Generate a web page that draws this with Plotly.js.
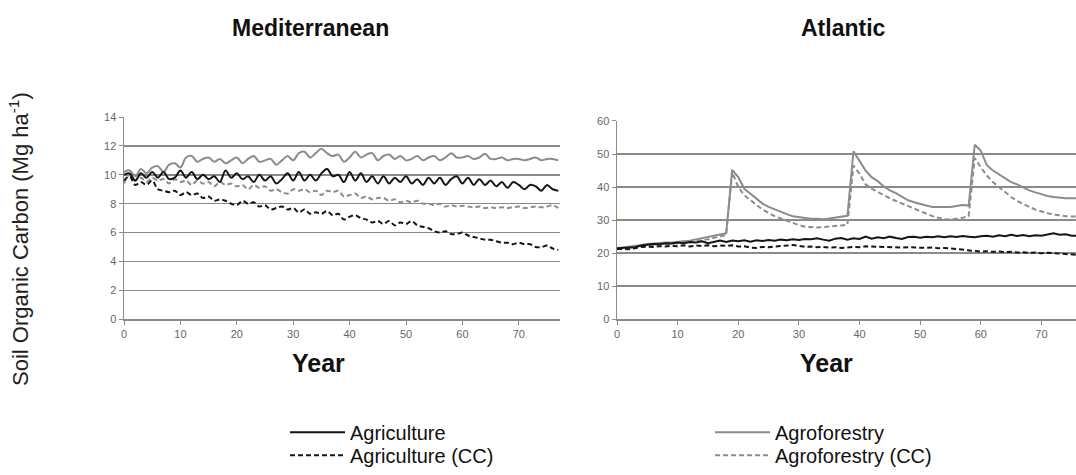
<!DOCTYPE html>
<html>
<head>
<meta charset="utf-8">
<script src="https://cdn.plot.ly/plotly-3.0.1.min.js"></script>
<style>html,body{margin:0;padding:0;background:#fff;}#chart{width:1076px;height:475px;}</style>
</head>
<body>
<div id="chart"></div>
<script>
// Years (shared x values)
const years = [0,1,2,3,4,5,6,7,8,9,10,11,12,13,14,15,16,17,18,19,20,21,22,23,24,25,26,27,28,29,30,31,32,33,34,35,36,37,38,39,40,41,42,43,44,45,46,47,48,49,50,51,52,53,54,55,56,57,58,59,60,61,62,63,64,65,66,67,68,69,70,71,72,73,74,75,76,77];

// Mediterranean (Mg ha-1)
const medAgriculture = [10.0,10.1,9.6,10.1,9.8,10.2,9.8,10.2,9.7,9.8,10.3,9.8,10.2,9.7,10.0,9.7,9.9,9.5,10.3,9.8,10.1,9.7,9.9,9.5,10.0,9.6,9.9,9.4,9.7,10.1,9.6,10.2,9.6,10.0,9.6,10.1,10.4,9.9,10.0,9.5,10.2,9.6,10.1,9.5,9.9,9.4,9.9,9.4,9.8,9.5,9.9,9.4,9.7,9.3,9.8,9.4,9.8,9.3,9.7,9.9,9.4,9.8,9.3,9.7,9.3,9.6,9.2,9.5,9.1,9.5,9.3,9.0,9.3,9.2,8.9,9.3,9.0,8.9];
const medAgricultureCC = [9.6,9.9,9.3,9.5,9.3,9.6,9.0,8.9,8.8,8.9,8.6,8.8,8.6,8.7,8.4,8.5,8.2,8.3,8.2,8.0,7.9,8.2,8.0,8.1,7.8,7.9,7.6,7.7,7.8,7.6,7.7,7.4,7.6,7.3,7.4,7.3,7.5,7.2,7.3,6.9,7.1,7.2,7.0,6.9,6.7,6.8,6.6,6.8,6.5,6.7,6.6,6.8,6.5,6.4,6.3,6.1,6.0,6.1,5.9,5.9,6.0,5.8,5.7,5.6,5.5,5.5,5.4,5.3,5.3,5.2,5.3,5.2,5.2,5.0,5.0,5.1,4.9,4.8];
const medAgroforestry = [10.2,10.3,9.9,10.4,10.1,10.5,10.6,10.2,10.7,10.8,10.5,11.2,11.3,10.9,11.1,11.2,10.9,11.1,10.8,11.0,11.2,10.8,11.1,11.3,10.9,11.0,11.1,10.7,11.0,11.3,11.0,11.5,11.6,11.2,11.5,11.8,11.5,11.3,11.4,10.9,11.2,11.6,11.2,11.4,11.5,11.0,11.3,11.4,11.1,11.3,11.0,11.1,11.3,11.0,11.2,11.3,11.0,11.2,11.5,11.2,11.2,11.3,11.1,11.2,11.45,11.1,11.1,11.2,11.0,11.1,11.1,11.0,11.1,11.2,11.0,11.1,11.1,11.0];
const medAgroforestryCC = [9.4,10.0,9.6,9.8,9.5,9.8,9.6,9.7,9.4,9.7,9.5,9.6,9.3,9.6,9.4,9.5,9.2,9.5,9.3,9.4,9.2,9.3,9.0,9.3,9.1,9.2,8.9,9.0,8.8,8.7,9.0,8.9,9.0,8.8,8.9,8.6,8.9,8.8,8.9,8.5,8.6,8.7,8.4,8.5,8.3,8.4,8.4,8.2,8.3,8.1,8.2,8.1,8.2,8.0,8.0,7.9,8.0,7.8,7.9,7.8,7.85,7.8,7.75,7.8,7.7,7.75,7.7,7.75,7.7,7.75,7.8,7.7,7.75,7.8,7.75,7.8,7.9,7.7];

// Atlantic (Mg ha-1)
const atlAgriculture = [21.5,21.6,21.6,21.8,22.3,22.5,22.8,22.7,23.0,22.9,23.2,23.0,23.4,23.2,23.6,23.0,23.5,23.8,23.4,23.8,23.6,23.9,23.5,23.9,23.7,24.0,23.8,24.1,23.9,24.2,24.0,24.3,24.2,24.5,24.1,23.8,24.4,24.6,24.1,24.5,24.3,25.0,24.4,24.8,24.5,25.0,24.6,24.3,24.9,25.0,24.7,25.0,24.8,25.1,24.8,25.1,24.9,25.2,25.0,24.8,25.1,25.3,25.0,25.4,25.1,25.6,25.2,25.5,25.1,25.4,25.3,25.6,26.0,25.6,25.7,25.3,25.2,25.2];
const atlAgricultureCC = [21.3,21.3,21.2,21.5,21.9,22.0,21.9,22.1,22.0,22.2,22.1,22.4,22.0,22.3,22.2,22.4,22.1,22.3,22.2,22.4,22.0,22.1,21.7,21.6,21.9,21.8,22.1,22.2,22.3,22.5,22.2,21.9,22.0,21.8,21.9,21.7,21.8,21.6,21.7,21.9,21.8,22.1,22.0,21.9,21.8,21.9,21.8,21.7,21.8,21.7,21.8,21.6,21.7,21.5,21.6,21.4,21.3,21.2,21.0,20.7,20.5,20.6,20.4,20.5,20.3,20.4,20.2,20.3,20.1,20.2,20.0,20.1,20.0,19.9,19.8,19.7,19.5,19.4];
const atlAgroforestry = [21.5,21.7,22.0,22.2,22.5,22.8,23.0,23.0,23.2,23.2,23.5,23.6,23.8,24.2,24.5,24.8,25.2,25.6,26.0,45.2,43.0,39.5,38.0,36.5,35.0,34.0,33.2,32.5,31.8,31.2,30.9,30.6,30.4,30.4,30.3,30.5,30.8,31.1,31.3,50.8,48.0,45.0,43.0,41.8,40.2,39.0,38.2,37.0,36.0,35.4,34.8,34.4,34.0,34.0,34.1,34.0,34.3,34.6,34.4,52.8,51.0,46.6,45.0,43.8,42.5,41.5,40.8,39.8,39.0,38.4,37.8,37.3,37.0,36.7,36.6,36.6,36.6,36.6];
const atlAgroforestryCC = [21.3,21.5,21.7,22.0,22.2,22.5,22.6,22.7,22.8,22.8,23.0,23.1,23.3,23.6,23.9,24.2,24.6,25.0,25.5,44.5,40.0,37.5,36.0,34.5,33.2,32.2,31.2,30.5,29.8,29.0,28.5,28.0,27.8,27.8,27.9,28.0,28.2,28.4,28.6,46.5,44.0,40.8,39.5,38.5,37.5,36.6,35.8,35.0,34.2,33.4,32.6,31.8,31.2,30.7,30.3,30.2,30.4,30.7,31.2,48.8,46.0,43.5,41.5,40.0,38.5,37.0,35.8,34.8,34.0,33.2,32.6,32.1,31.7,31.4,31.2,31.1,31.0,31.0];

const seriesNames = ['Agriculture','Agriculture (CC)','Agroforestry','Agroforestry (CC)'];
const panelTitles = ['Mediterranean','Atlantic'];
const xTitle = 'Year';
const yTitle = 'Soil Organic Carbon (Mg ha<sup>-1</sup>)';

const BLACK = '#151515', GREY = '#8c8c8c', DASH = '5px,3px';
const styles = [
  {color: BLACK, dash: 'solid', legend: 'legend'},
  {color: BLACK, dash: DASH, legend: 'legend2'},
  {color: GREY, dash: 'solid', legend: 'legend3'},
  {color: GREY, dash: DASH, legend: 'legend4'}
];
const medSets = [medAgriculture, medAgricultureCC, medAgroforestry, medAgroforestryCC];
const atlSets = [atlAgriculture, atlAgricultureCC, atlAgroforestry, atlAgroforestryCC];

const traces = [];
[3,2,1,0].forEach(i => {
  traces.push({x: years, y: medSets[i], type: 'scatter', mode: 'lines', name: seriesNames[i],
    line: {color: styles[i].color, dash: styles[i].dash, width: 2, shape: 'spline', smoothing: 1}, xaxis: 'x', yaxis: 'y',
    legend: styles[i].legend, showlegend: true});
  traces.push({x: years, y: atlSets[i], type: 'scatter', mode: 'lines', name: seriesNames[i],
    line: {color: styles[i].color, dash: styles[i].dash, width: 2}, xaxis: 'x2', yaxis: 'y2',
    showlegend: false});
});

const FONT = 'Arial, Liberation Sans, sans-serif';
const tickFont = {family: FONT, size: 11, color: '#666'};
const axisCommon = {showline: true, linecolor: '#8a8a8a', linewidth: 1.5, ticks: 'outside',
  ticklen: 4, tickcolor: '#8a8a8a', tickfont: tickFont, zeroline: false, fixedrange: true};

const W = 1076, H = 475;
function legendAt(px, py) {
  return {x: px/W, y: 1-py/H, xanchor: 'left', yanchor: 'middle', bgcolor: 'rgba(0,0,0,0)',
    itemwidth: 55, font: {family: FONT, size: 20, color: '#111'}};
}
const layout = {
  width: W, height: H,
  margin: {l: 0, r: 0, t: 0, b: 0},
  paper_bgcolor: '#fff', plot_bgcolor: '#fff',
  font: {family: FONT},
  xaxis: Object.assign({}, axisCommon, {domain: [124/W, 560/W], range: [0, 77.3], dtick: 10, tick0: 0, showgrid: false, anchor: 'y'}),
  yaxis: Object.assign({}, axisCommon, {domain: [1-322/H, 1-118/H], range: [0, 14], dtick: 2, showgrid: true, gridcolor: '#8a8a8a', gridwidth: 1.5, anchor: 'x'}),
  xaxis2: Object.assign({}, axisCommon, {domain: [617/W, 1], range: [0, 75.7], dtick: 10, tick0: 0, showgrid: false, anchor: 'y2'}),
  yaxis2: Object.assign({}, axisCommon, {domain: [1-322/H, 1-122/H], range: [0, 60], dtick: 10, showgrid: true, gridcolor: '#8a8a8a', gridwidth: 1.5, anchor: 'x2'}),
  legend: legendAt(285, 436),
  legend2: legendAt(285, 459),
  legend3: legendAt(710, 436),
  legend4: legendAt(710, 459),
  annotations: [
    {text: '<b>' + panelTitles[0] + '</b>', xref: 'paper', yref: 'paper', x: 310/W, y: 1-28/H, xanchor: 'center', yanchor: 'middle', showarrow: false, font: {family: FONT, size: 23, color: '#111'}},
    {text: '<b>' + panelTitles[1] + '</b>', xref: 'paper', yref: 'paper', x: 843/W, y: 1-28/H, xanchor: 'center', yanchor: 'middle', showarrow: false, font: {family: FONT, size: 23, color: '#111'}},
    {text: '<b>' + xTitle + '</b>', xref: 'paper', yref: 'paper', x: 318/W, y: 1-366/H, xanchor: 'center', yanchor: 'middle', showarrow: false, font: {family: FONT, size: 25, color: '#111'}},
    {text: '<b>' + xTitle + '</b>', xref: 'paper', yref: 'paper', x: 826/W, y: 1-366/H, xanchor: 'center', yanchor: 'middle', showarrow: false, font: {family: FONT, size: 25, color: '#111'}},
    {text: yTitle, xref: 'paper', yref: 'paper', x: 19/W, y: 1-241/H, xanchor: 'center', yanchor: 'middle', showarrow: false, textangle: -90, font: {family: FONT, size: 22, color: '#222'}}
  ]
};

Plotly.newPlot('chart', traces, layout, {staticPlot: true, displayModeBar: false});
</script>
</body>
</html>
